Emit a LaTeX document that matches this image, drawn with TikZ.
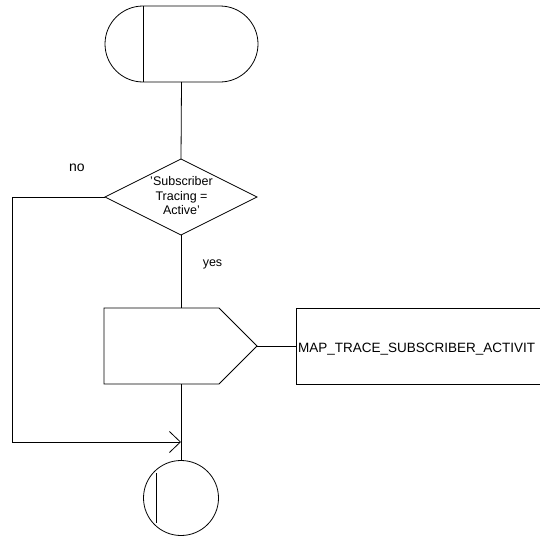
\documentclass[tikz,border=0pt]{standalone}
\usepackage{fontspec}
\setmainfont{Liberation Sans}
\usetikzlibrary{positioning,arrows.meta,shapes.geometric,shapes.misc,shapes.symbols}

\begin{document}
\begin{tikzpicture}[x=1pt,y=-1pt,font=\fontsize{12.5}{14.5}\selectfont,line width=0.8pt,
  every node/.style={inner sep=0pt,outer sep=0pt}]
  \useasboundingbox (0,0) rectangle (540,538);
  \clip (0,0) rectangle (540,538);
  \node[draw,rounded rectangle,minimum width=153pt,minimum height=76pt] (start) at (181.5,44) {};
  \draw (143,6) -- (143,82);
  \node[draw,diamond,aspect=2,minimum width=152pt,minimum height=76pt] (check) at (181,197) {};
  \node[align=center] (checktext) at (181.5,196) {'Subscriber\\Tracing =\\Active'};
  \node[draw,signal,signal to=east,signal pointer angle=90,minimum width=153pt,minimum height=76pt,anchor=west] (trace) at (104,346) {};
  \node[draw,minimum width=300pt,minimum height=76pt,anchor=west] (msg) at (296,346) {};
  \node[anchor=base west,font=\fontsize{13.5}{16}\selectfont] (msgtext) at (298,352) {MAP\_TRACE\_SUBSCRIBER\_ACTIVIT};
  \node[draw,circle,minimum size=75pt] (stop) at (181,498) {};
  \draw (156,473) -- (156,523);
  \node[anchor=base,font=\fontsize{14}{16}\selectfont] (no) at (77,171) {no};
  \node[anchor=base] (yes) at (212.5,266) {yes};
  \coordinate (corner) at (12,197);
  \coordinate (join) at (181,442);
  \draw (start.south) -- (check.north);
  \draw (check.south) -- (check.south |- trace.north);
  \draw (trace.east) -- (msg.west);
  \draw (check.south |- trace.south) -- (stop.north);
  \draw[-{Straight Barb[length=11pt,width=21pt]}] (check.west) -- (corner) |- (join);
\end{tikzpicture}
\end{document}
